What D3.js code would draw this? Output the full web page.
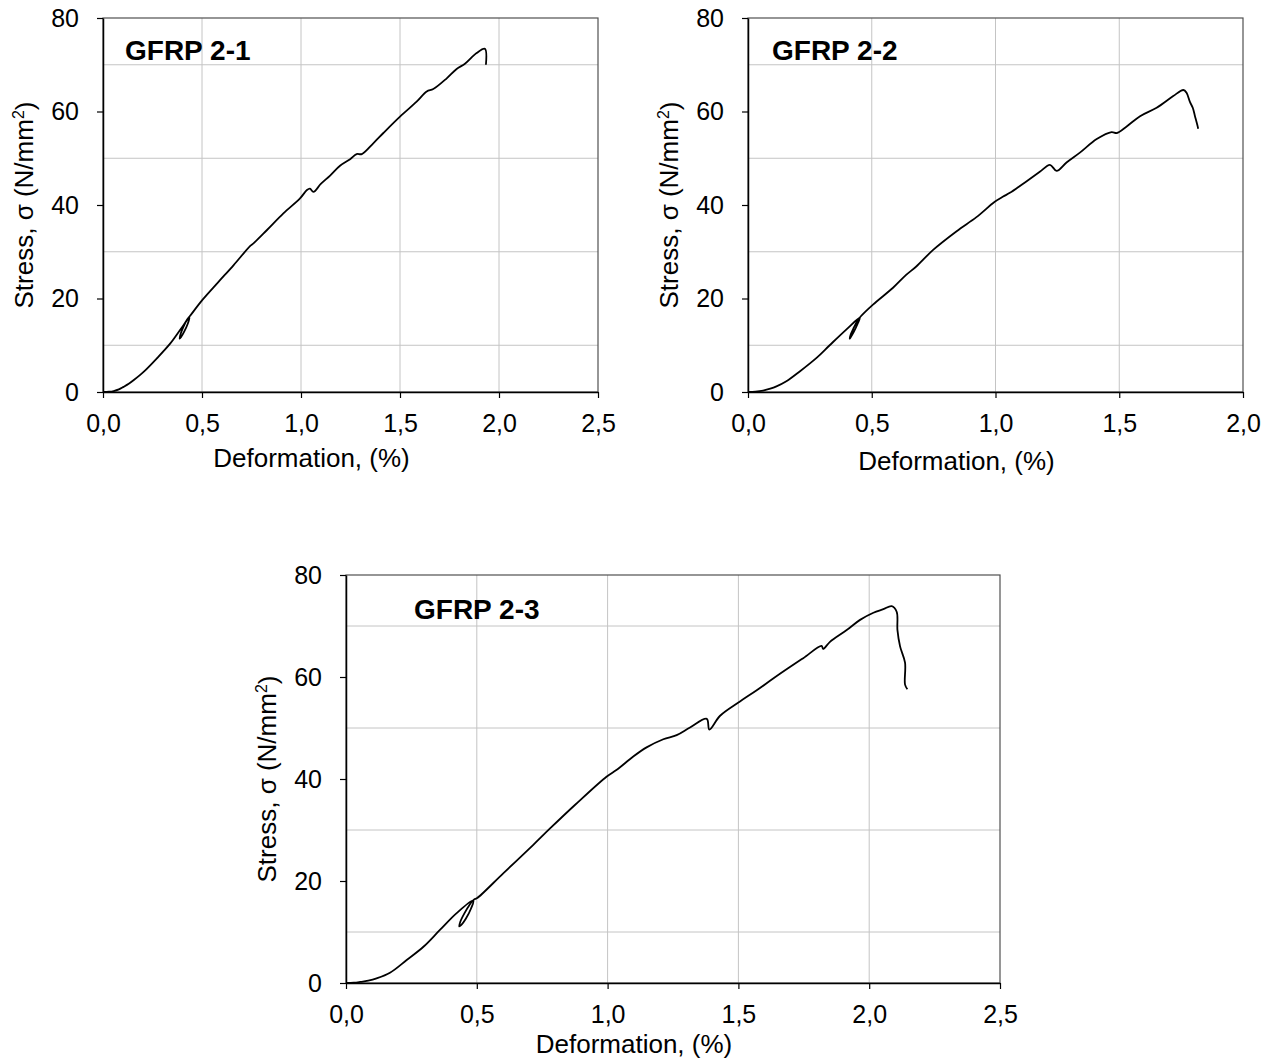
<!DOCTYPE html>
<html lang="en">
<head>
    <meta charset="UTF-8">
    <title>GFRP stress-strain</title>
    <script src="https://d3js.org/d3.v7.min.js"></script>
    <style>
        body { margin: 0; background: #fff; }
        text { font-family: "Liberation Sans", Arial, sans-serif; fill: #000; }
    </style>
</head>
<body>
    <svg width="1278" height="1064"></svg>
    <script>
        // tick values
        const yTicks = [0, 20, 40, 60, 80];
        const yGrid = [10, 30, 50, 70];
        const xTicks25 = [0, 0.5, 1.0, 1.5, 2.0, 2.5];
        const xTicks20 = [0, 0.5, 1.0, 1.5, 2.0];

        // [deformation %, stress N/mm2]
        const gfrp21 = [
            [0, 0], [0.03, 0.05], [0.054, 0.2], [0.08, 0.55], [0.104, 1.1], [0.13, 1.75], [0.154, 2.5], [0.205, 4.3], [0.272, 7.2],
            [0.34, 10.4], [0.39, 13.3], [0.437, 16.0],
            [0.428, 14.6], [0.41, 12.9], [0.395, 11.8], [0.387, 11.4],
            [0.392, 12.4], [0.405, 13.8], [0.425, 15.5], [0.44, 16.3],
            [0.5, 19.6], [0.58, 23.4], [0.659, 27.1], [0.745, 31.3], [0.76, 31.8], [0.827, 34.6],
            [0.911, 38.2], [0.995, 41.4], [1.03, 43.2], [1.045, 43.5], [1.063, 42.8],
            [1.1, 44.5], [1.147, 46.3], [1.197, 48.4], [1.248, 49.8], [1.281, 50.9], [1.307, 50.9],
            [1.365, 53.2], [1.416, 55.4], [1.5, 58.9], [1.584, 62.1], [1.635, 64.3], [1.668, 64.8],
            [1.736, 67.1], [1.786, 69.1], [1.828, 70.2], [1.887, 72.5], [1.929, 73.4], [1.934, 70.0]
        ];
        const gfrp22 = [
            [0, 0], [0.03, 0.08], [0.061, 0.3], [0.09, 0.7], [0.115, 1.2], [0.155, 2.3], [0.209, 4.4], [0.277, 7.3],
            [0.33, 10.0], [0.398, 13.4], [0.452, 15.9],
            [0.443, 14.6], [0.428, 12.9], [0.416, 11.8], [0.411, 11.4],
            [0.415, 12.3], [0.427, 13.7], [0.443, 15.3], [0.456, 16.2],
            [0.505, 18.7], [0.586, 22.3], [0.64, 25.1], [0.681, 26.9], [0.748, 30.4], [0.843, 34.4],
            [0.923, 37.4], [0.997, 40.7], [1.031, 41.8], [1.058, 42.6], [1.126, 45.1], [1.179, 47.1],
            [1.22, 48.6], [1.247, 47.3], [1.287, 49.1], [1.341, 51.2], [1.409, 54.1], [1.469, 55.6],
            [1.49, 55.4], [1.53, 56.8], [1.584, 59.0], [1.651, 60.8], [1.718, 63.3], [1.759, 64.6],
            [1.772, 64.0], [1.786, 62.0], [1.797, 60.8], [1.806, 59.0], [1.815, 57.2], [1.819, 56.3]
        ];
        const gfrp23 = [
            [0, 0], [0.03, 0.05], [0.054, 0.2], [0.085, 0.45], [0.117, 0.9], [0.168, 2.0], [0.232, 4.5], [0.296, 7.1],
            [0.359, 10.4], [0.423, 13.7], [0.487, 16.2],
            [0.478, 14.6], [0.458, 12.6], [0.441, 11.4], [0.433, 11.1],
            [0.437, 12.0], [0.452, 13.6], [0.472, 15.3], [0.49, 16.4],
            [0.5, 16.6], [0.601, 21.5], [0.716, 27.1], [0.78, 30.3], [0.875, 34.9], [0.997, 40.5],
            [1.035, 41.8], [1.098, 44.4], [1.149, 46.2], [1.213, 47.8], [1.264, 48.6], [1.315, 50.1],
            [1.379, 51.8], [1.389, 49.7], [1.43, 52.4], [1.506, 55.2], [1.57, 57.4], [1.633, 59.7],
            [1.684, 61.5], [1.748, 63.7], [1.818, 66.1], [1.824, 65.5], [1.85, 66.9], [1.914, 69.2],
            [1.965, 71.2], [2.016, 72.6], [2.054, 73.3], [2.086, 73.9], [2.105, 72.8], [2.108, 69.2],
            [2.118, 66.0], [2.137, 62.8], [2.137, 58.5], [2.146, 57.6]
        ];

        const panels = [
            { name: 'GFRP 2-1', data: gfrp21, xTicks: xTicks25, left: 103, top: 18, w: 495, h: 374, tx: 22, ty: 42, xTitleDy: 75 },
            { name: 'GFRP 2-2', data: gfrp22, xTicks: xTicks20, left: 748, top: 18, w: 495, h: 374, tx: 24, ty: 42, xTitleDy: 78 },
            { name: 'GFRP 2-3', data: gfrp23, xTicks: xTicks25, left: 346, top: 575, w: 654, h: 408, tx: 68, ty: 44, xTitleDy: 70 }
        ];

        const svg = d3.select('svg');
        const commaFmt = d => d3.format('.1f')(d).replace('.', ',');

        panels.forEach(p => {
            const xMax = p.xTicks[p.xTicks.length - 1];
            const x = d3.scaleLinear().domain([0, xMax]).range([0, p.w]);
            const y = d3.scaleLinear().domain([0, 80]).range([p.h, 0]);

            const g = svg.append('g').attr('transform', 'translate(' + [p.left, p.top] + ')');

            // grid
            g.selectAll('.vgrid')
                .data(p.xTicks.filter(d => d > 0 && d < xMax))
                .enter().append('line')
                .attr('x1', d => x(d)).attr('x2', d => x(d))
                .attr('y1', 0).attr('y2', p.h)
                .attr('stroke', '#c4c4c4').attr('stroke-width', 1);
            g.selectAll('.hgrid')
                .data(yGrid)
                .enter().append('line')
                .attr('x1', 0).attr('x2', p.w)
                .attr('y1', d => y(d)).attr('y2', d => y(d))
                .attr('stroke', '#c4c4c4').attr('stroke-width', 1);

            // frame (top/right)
            g.append('rect')
                .attr('width', p.w).attr('height', p.h)
                .attr('fill', 'none').attr('stroke', '#505050').attr('stroke-width', 1.2);

            // axes
            const xAxis = d3.axisBottom(x).tickValues(p.xTicks).tickFormat(commaFmt)
                .tickSizeInner(6).tickSizeOuter(0).tickPadding(16);
            const yAxis = d3.axisLeft(y).tickValues(yTicks)
                .tickSizeInner(6).tickSizeOuter(0).tickPadding(18);

            const gx = g.append('g').attr('transform', 'translate(0,' + p.h + ')').call(xAxis);
            const gy = g.append('g').call(yAxis);
            [gx, gy].forEach(a => {
                a.select('.domain').attr('stroke', '#000').attr('stroke-width', 1.5);
                a.selectAll('.tick line').attr('stroke', '#000').attr('stroke-width', 1.2);
                a.selectAll('.tick text').attr('font-size', 25).attr('fill', '#000')
                    .style('font-family', '"Liberation Sans", Arial, sans-serif');
            });

            // curve
            const line = d3.line().x(d => x(d[0])).y(d => y(d[1])).curve(d3.curveCatmullRom.alpha(0.5));
            g.append('path')
                .datum(p.data)
                .attr('d', line)
                .attr('fill', 'none')
                .attr('stroke', '#000')
                .attr('stroke-width', 1.8)
                .attr('stroke-linejoin', 'round');

            // panel title
            g.append('text')
                .attr('x', p.tx).attr('y', p.ty)
                .attr('font-size', 28).attr('font-weight', 'bold')
                .text(p.name);

            // axis titles
            g.append('text')
                .attr('x', p.w / 2 - 39).attr('y', p.h + p.xTitleDy)
                .attr('text-anchor', 'middle').attr('font-size', 26)
                .text('Deformation, (%)');

            const yt = g.append('text')
                .attr('transform', 'translate(' + [-79, p.h / 2] + ') rotate(-90)')
                .attr('text-anchor', 'middle').attr('dy', '0.35em').attr('font-size', 26);
            yt.append('tspan').text('Stress, σ (N/mm');
            yt.append('tspan').attr('font-size', 16).attr('dy', '-0.6em').text('2');
            yt.append('tspan').attr('font-size', 26).attr('dy', '0.4em').text(')');
        });
    </script>
</body>
</html>
